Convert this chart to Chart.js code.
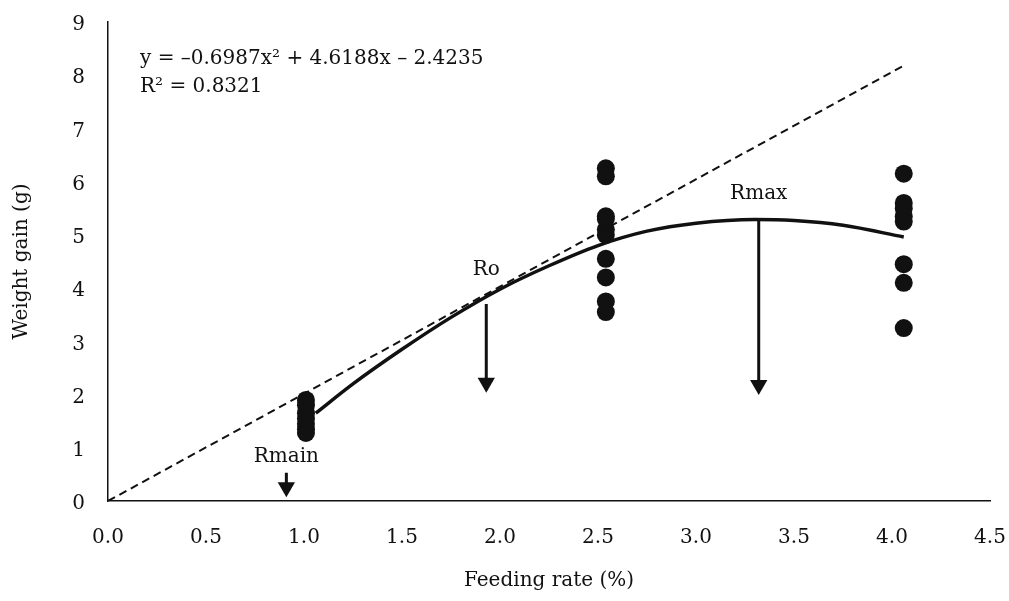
<!DOCTYPE html>
<html>
<head>
<meta charset="utf-8">
<script src="https://cdn.jsdelivr.net/npm/chart.js@4/dist/chart.umd.min.js"></script>
<style>
  html, body { margin: 0; padding: 0; background: #fff; }
  #wrap { width: 1009px; height: 601px; }
</style>
</head>
<body>
<div id="wrap"><canvas id="chart" width="1009" height="601"></canvas></div>
<script>
  // observed weight gain per feeding rate (three groups)
  const rateLow = [1.01, 1.01, 1.01, 1.01, 1.01, 1.01, 1.01];
  const gainLow = [1.9, 1.8, 1.65, 1.55, 1.45, 1.35, 1.28];
  const rateMid = [2.54, 2.54, 2.54, 2.54, 2.54, 2.54, 2.54, 2.54, 2.54, 2.54];
  const gainMid = [6.25, 6.1, 5.35, 5.3, 5.1, 5.0, 4.55, 4.2, 3.75, 3.55];
  const rateHigh = [4.06, 4.06, 4.06, 4.06, 4.06, 4.06, 4.06, 4.06];
  const gainHigh = [6.15, 5.6, 5.5, 5.35, 5.25, 4.45, 4.1, 3.25];

  // fitted quadratic
  const fitX = [1.06, 1.25, 1.5, 1.75, 2.0, 2.25, 2.5, 2.75, 3.0, 3.3, 3.5, 3.75, 4.06];
  const fitY = [1.65, 2.2, 2.85, 3.45, 3.98, 4.42, 4.8, 5.07, 5.22, 5.29, 5.27, 5.18, 4.96];

  // dashed tangent line through the origin
  const tangentX = [0, 4.07];
  const tangentY = [0, 8.2];

  // arrows: name, x, top, head centre
  const arrowNames = ['Rmain', 'Ro', 'Rmax'];
  const arrowX = [0.91, 1.93, 3.32];
  const arrowTop = [0.53, 3.70, 5.26];
  const arrowEnd = [0.26, 2.22, 2.18];

  const xTicks = [0, 0.5, 1, 1.5, 2, 2.5, 3, 3.5, 4, 4.5];
  const yTicks = [0, 1, 2, 3, 4, 5, 6, 7, 8, 9];

  const equationLines = ['y = \u20130.6987x\u00b2 + 4.6188x \u2013 2.4235', 'R\u00b2 = 0.8321'];

  const FONT = "'DejaVu Serif', serif";
  const pts = (xs, ys) => xs.map((x, i) => ({ x: x, y: ys[i] }));

  const arrowSets = arrowNames.map((n, i) => ({
    label: n,
    data: [{ x: arrowX[i], y: arrowTop[i] }, { x: arrowX[i], y: arrowEnd[i] }],
    showLine: true,
    borderColor: '#111',
    borderWidth: 3,
    pointStyle: 'triangle',
    rotation: 180,
    pointRadius: [0, 10],
    pointBackgroundColor: '#111',
    pointBorderWidth: 0
  }));

  // text labels above arrows plus the fit equation
  const textPlugin = {
    id: 'textLabels',
    afterDatasetsDraw(chart) {
      const ctx = chart.ctx;
      const xs = chart.scales.x, ys = chart.scales.y;
      const lift = [16, 34, 27];
      ctx.save();
      ctx.fillStyle = '#111';
      ctx.font = `20px ${FONT}`;
      ctx.textAlign = 'center';
      ctx.textBaseline = 'middle';
      arrowNames.forEach((n, i) => {
        ctx.fillText(n, xs.getPixelForValue(arrowX[i]), ys.getPixelForValue(arrowTop[i]) - lift[i]);
      });
      ctx.textAlign = 'left';
      equationLines.forEach((t, i) => {
        ctx.fillText(t, chart.chartArea.left + 32, chart.chartArea.top + 37 + i * 28);
      });
      ctx.restore();
    }
  };

  new Chart(document.getElementById('chart'), {
    type: 'scatter',
    data: {
      datasets: [
        {
          label: 'tangent',
          data: pts(tangentX, tangentY),
          showLine: true,
          borderColor: '#111',
          borderWidth: 2,
          borderDash: [8, 5],
          pointRadius: 0
        },
        {
          label: 'fit',
          data: pts(fitX, fitY),
          showLine: true,
          borderColor: '#111',
          borderWidth: 3.5,
          cubicInterpolationMode: 'monotone',
          pointRadius: 0
        },
        ...arrowSets,
        {
          label: 'observed',
          data: pts(rateLow, gainLow).concat(pts(rateMid, gainMid), pts(rateHigh, gainHigh)),
          pointRadius: 9,
          pointBackgroundColor: '#111',
          pointBorderWidth: 0
        }
      ]
    },
    options: {
      responsive: false,
      animation: false,
      events: [],
      layout: { padding: { top: 22, right: 19, left: 0, bottom: 0 } },
      plugins: {
        legend: { display: false },
        tooltip: { enabled: false }
      },
      scales: {
        x: {
          type: 'linear',
          min: 0,
          max: 4.5,
          afterBuildTicks: s => { s.ticks = xTicks.map(v => ({ value: v })); },
          afterFit: s => { s.height = 100; s.paddingLeft = 0; s.paddingRight = 0; },
          grid: { display: false, drawTicks: false },
          border: { color: '#111', width: 1.5 },
          ticks: {
            padding: 25,
            color: '#111',
            font: { family: FONT, size: 20 },
            callback: v => v.toFixed(1)
          },
          title: {
            display: true,
            text: 'Feeding rate (%)',
            color: '#111',
            font: { family: FONT, size: 20 },
            padding: { top: 0, bottom: 8 }
          }
        },
        y: {
          min: 0,
          max: 9,
          afterBuildTicks: s => { s.ticks = yTicks.map(v => ({ value: v })); },
          afterFit: s => { s.width = 108; s.paddingTop = 0; s.paddingBottom = 0; },
          grid: { display: false, drawTicks: false },
          border: { color: '#111', width: 1.5 },
          ticks: {
            padding: 23,
            labelOffset: 3,
            color: '#111',
            font: { family: FONT, size: 20 }
          },
          title: {
            display: true,
            text: 'Weight gain (g)',
            color: '#111',
            font: { family: FONT, size: 20 },
            padding: { top: 10, bottom: 0 }
          }
        }
      }
    },
    plugins: [textPlugin]
  });
</script>
</body>
</html>
